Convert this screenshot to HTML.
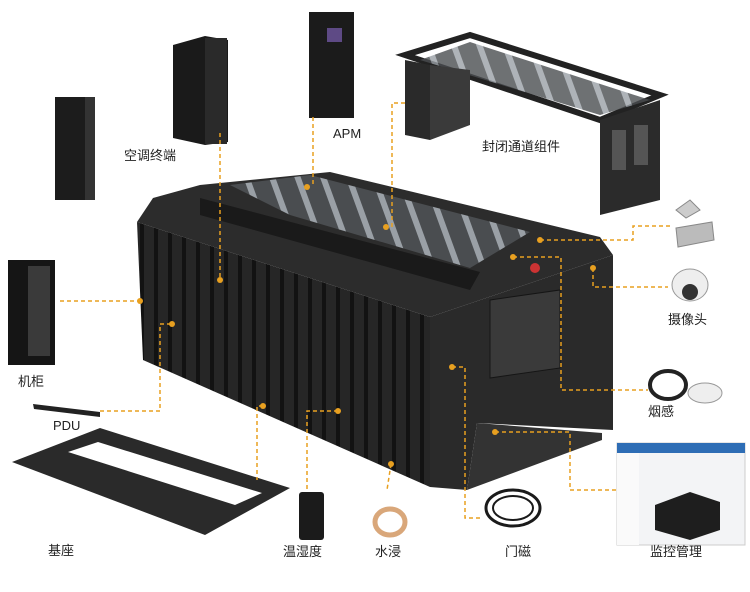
<!DOCTYPE html>
<html><head><meta charset="utf-8">
<style>
html,body{margin:0;padding:0;background:#fff;}
svg{display:block;}
text{font-family:"Liberation Sans","Noto Sans CJK SC",sans-serif;font-size:13px;fill:#222;}
</style></head>
<body>
<svg width="750" height="592" viewBox="0 0 750 592" xmlns="http://www.w3.org/2000/svg">
<defs>
<pattern id="stripes" width="14" height="10" patternUnits="userSpaceOnUse">
<rect width="14" height="10" fill="#262626"/><rect x="0" width="4" height="10" fill="#121212"/>
</pattern>
<pattern id="top" width="24" height="10" patternUnits="userSpaceOnUse" patternTransform="rotate(-20)">
<rect width="24" height="10" fill="#4a4d50"/><rect x="0" width="6" height="10" fill="#9aa0a6"/>
</pattern>
</defs>

<!-- main module -->
<polygon points="137,222 430,317 430,487 143,360" fill="url(#stripes)"/>
<polygon points="430,317 613,255 613,430 477,423 467,490 430,487" fill="#2a2a2a"/>
<polygon points="490,300 560,290 560,368 490,378" fill="#3a3a3a" stroke="#151515"/>
<polygon points="477,423 602,433 602,440 467,490" fill="#333"/>
<polygon points="137,222 153,198 200,185 330,172 600,237 613,255 430,317" fill="#2c2c2c"/>
<polygon points="230,185 310,175 530,232 470,268 290,215" fill="url(#top)"/>
<polygon points="200,198 480,272 470,290 200,215" fill="#1a1a1a"/>
<circle cx="535" cy="268" r="5" fill="#c33"/>

<!-- top-left cabinet -->
<rect x="55" y="97" width="40" height="103" fill="#1c1c1c"/>
<rect x="85" y="97" width="10" height="103" fill="#333"/>
<!-- AC -->
<polygon points="173,45 205,36 228,40 228,142 205,145 173,138" fill="#1a1a1a"/>
<rect x="205" y="38" width="22" height="106" fill="#2a2a2a"/>
<!-- APM -->
<rect x="309" y="12" width="45" height="106" fill="#1b1b1b"/>
<rect x="327" y="28" width="15" height="14" fill="#5e4a85"/>
<!-- containment frame -->
<polygon points="405,55 470,35 660,95 600,120" fill="none" stroke="#222" stroke-width="6"/>
<polygon points="420,60 470,42 650,100 600,115" fill="url(#top)" opacity=".8"/>
<polygon points="405,60 430,65 430,140 405,135" fill="#2a2a2a"/>
<polygon points="430,65 470,70 470,125 430,140" fill="#3a3a3a"/>
<polygon points="600,120 660,100 660,200 600,215" fill="#2b2b2b"/>
<rect x="612" y="130" width="14" height="40" fill="#555"/><rect x="634" y="125" width="14" height="40" fill="#555"/>

<!-- rack -->
<rect x="8" y="260" width="47" height="105" fill="#151515"/>
<rect x="28" y="266" width="22" height="90" fill="#3a3a3a"/>
<!-- PDU -->
<polygon points="33,404 100,412 100,417 34,409" fill="#222"/>
<!-- base -->
<polygon points="12,462 100,428 290,488 205,535" fill="#2a2a2a"/>
<polygon points="68,452 98,442 262,493 235,505" fill="#fff"/>
<!-- temp sensor -->
<rect x="299" y="492" width="25" height="48" rx="3" fill="#1b1b1b"/>
<!-- water -->
<ellipse cx="390" cy="522" rx="15" ry="13" fill="none" stroke="#d9a77a" stroke-width="5"/>
<!-- door magnet -->
<ellipse cx="513" cy="508" rx="27" ry="18" fill="none" stroke="#1a1a1a" stroke-width="3"/>
<ellipse cx="513" cy="508" rx="20" ry="12" fill="none" stroke="#1a1a1a" stroke-width="2"/>
<!-- monitor -->
<rect x="617" y="443" width="128" height="102" fill="#f3f4f6" stroke="#ccc"/>
<rect x="617" y="443" width="128" height="10" fill="#2e6db5"/>
<rect x="617" y="453" width="22" height="92" fill="#fafafa"/>
<polygon points="655,505 690,492 720,502 720,530 690,540 655,530" fill="#1e1e1e"/>
<!-- smoke -->
<ellipse cx="668" cy="385" rx="18" ry="14" fill="none" stroke="#222" stroke-width="4"/>
<ellipse cx="705" cy="393" rx="17" ry="10" fill="#eee" stroke="#999"/>
<!-- camera -->
<ellipse cx="690" cy="285" rx="18" ry="16" fill="#eee" stroke="#999"/>
<circle cx="690" cy="292" r="8" fill="#333"/>
<!-- switch -->
<polygon points="676,210 690,200 700,210 686,218" fill="#ccc" stroke="#888"/>
<polygon points="676,228 712,222 714,240 678,247" fill="#bbb" stroke="#888"/>

<!-- connectors -->
<g fill="none" stroke="#e8a020" stroke-width="1.5" stroke-dasharray="4,3">
<path d="M220,133 V280"/>
<path d="M313,117 V187"/>
<path d="M405,103 H392 V227"/>
<path d="M60,301 H140"/>
<path d="M100,411 H160 V324 H172"/>
<path d="M263,406 H257 V480"/>
<path d="M338,411 H307 V490"/>
<path d="M391,464 L387,490"/>
<path d="M452,367 H465 V518 H482"/>
<path d="M495,432 H570 V490 H617"/>
<path d="M513,257 H561 V390 H648"/>
<path d="M593,268 V287 H668"/>
<path d="M540,240 H633 V226 H672"/>
</g>
<g fill="#e8a020">
<circle cx="220" cy="280" r="3"/><circle cx="307" cy="187" r="3"/><circle cx="386" cy="227" r="3"/>
<circle cx="140" cy="301" r="3"/><circle cx="172" cy="324" r="3"/><circle cx="263" cy="406" r="3"/>
<circle cx="338" cy="411" r="3"/><circle cx="391" cy="464" r="3"/><circle cx="452" cy="367" r="3"/>
<circle cx="495" cy="432" r="3"/><circle cx="540" cy="240" r="3"/><circle cx="513" cy="257" r="3"/>
<circle cx="593" cy="268" r="3"/>
</g>

<!-- labels -->
<text x="124" y="160">空调终端</text>
<text x="333" y="138">APM</text>
<text x="482" y="151">封闭通道组件</text>
<text x="18" y="386">机柜</text>
<text x="53" y="430">PDU</text>
<text x="48" y="555">基座</text>
<text x="283" y="556">温湿度</text>
<text x="375" y="556">水浸</text>
<text x="505" y="556">门磁</text>
<text x="650" y="556">监控管理</text>
<text x="648" y="416">烟感</text>
<text x="668" y="324">摄像头</text>
</svg>
</body></html>
